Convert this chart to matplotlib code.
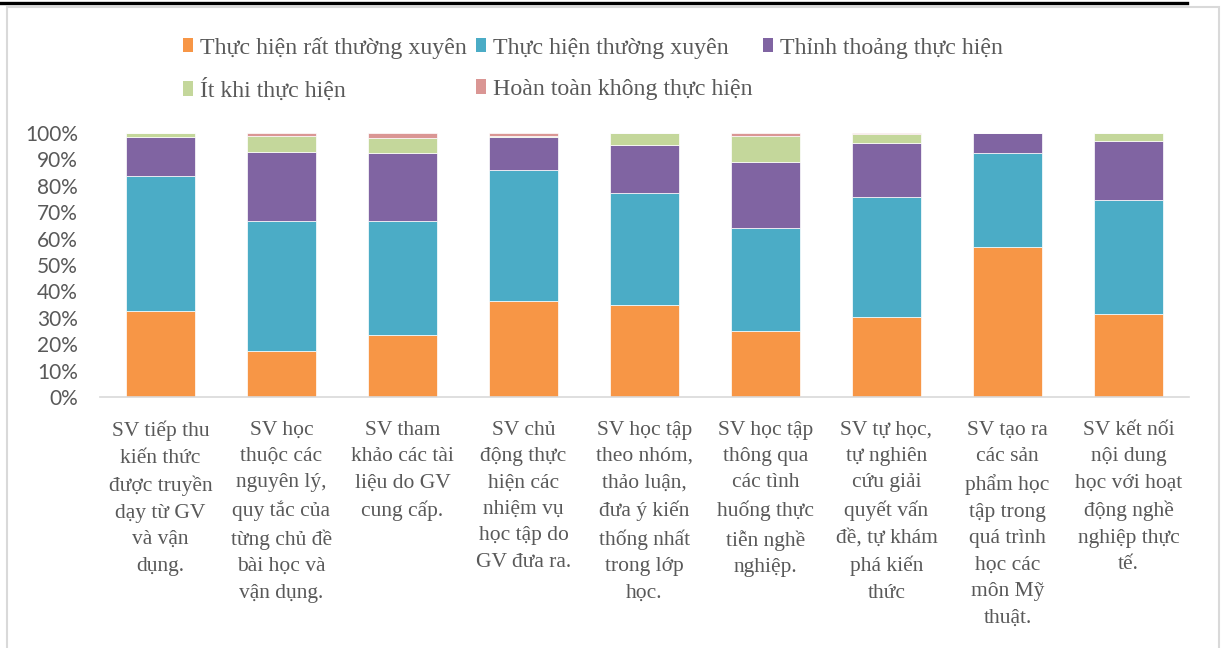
import numpy as np
import matplotlib
matplotlib.use("Agg")
import matplotlib.pyplot as plt
from matplotlib.patches import Rectangle, Patch
from matplotlib.lines import Line2D
from matplotlib.ticker import PercentFormatter

# ---- data (percent of responses) ----
categories = [
    "SV tiếp thu\nkiến thức\nđược truyền\ndạy từ GV\nvà vận\ndụng.",
    "SV học\nthuộc các\nnguyên lý,\nquy tắc của\ntừng chủ đề\nbài học và\nvận dụng.",
    "SV tham\nkhảo các tài\nliệu do GV\ncung cấp.",
    "SV chủ\nđộng thực\nhiện các\nnhiệm vụ\nhọc tập do\nGV đưa ra.",
    "SV học tập\ntheo nhóm,\nthảo luận,\nđưa ý kiến\nthống nhất\ntrong lớp\nhọc.",
    "SV học tập\nthông qua\ncác tình\nhuống thực\ntiễn nghề\nnghiệp.",
    "SV tự học,\ntự nghiên\ncứu giải\nquyết vấn\nđề, tự khám\nphá kiến\nthức",
    "SV tạo ra\ncác sản\nphẩm học\ntập trong\nquá trình\nhọc các\nmôn Mỹ\nthuật.",
    "SV kết nối\nnội dung\nhọc với hoạt\nđộng nghề\nnghiệp thực\ntế.",
]
series_names = [
    "Thực hiện rất thường xuyên",
    "Thực hiện thường xuyên",
    "Thỉnh thoảng thực hiện",
    "Ít khi thực hiện",
    "Hoàn toàn không thực hiện",
]
rat_thuong_xuyen = [32.6, 17.5, 23.5, 36.4, 34.8, 25.1, 30.4, 56.8, 31.5]
thuong_xuyen     = [51.1, 49.1, 43.1, 49.5, 42.5, 38.8, 45.3, 35.8, 43.2]
thinh_thoang     = [14.6, 26.2, 25.8, 12.4, 18.3, 25.2, 20.5,  7.4, 22.1]
it_khi           = [ 1.7,  6.1,  5.6,  0.6,  4.4,  9.8,  3.4,  0.0,  3.2]
khong_thuc_hien  = [ 0.0,  1.1,  2.0,  1.1,  0.0,  1.1,  0.4,  0.0,  0.0]

colors = ["#F79646", "#4BACC6", "#8064A2", "#C4D79B", "#DA9694"]
TXT = "#595959"

data = np.array([rat_thuong_xuyen, thuong_xuyen, thinh_thoang, it_khi, khong_thuc_hien])
data = data / data.sum(axis=0) * 100  # 100% stacked

W, H = 1224, 648
fig = plt.figure(figsize=(W / 100, H / 100), dpi=100)

# chart frame + black rule on top
fig.add_artist(Rectangle((7 / W, -0.05), 1212 / W, 1.05 - 7 / H, transform=fig.transFigure,
                         fill=False, edgecolor="#d9d9d9", linewidth=1.5))
fig.add_artist(Line2D([0, 1187 / W], [1 - 3 / H, 1 - 3 / H], transform=fig.transFigure,
                      color="black", linewidth=2.4))

ax = fig.add_axes([100 / W, 251 / H, 1089 / W, 264 / H])
x = np.arange(len(categories))
bottom = np.zeros(len(categories))
handles = []
for vals, name, c in zip(data, series_names, colors):
    ax.bar(x, vals, 0.57, bottom=bottom, color=c, edgecolor="white", linewidth=0.5, label=name)
    bottom += vals
    handles.append(Patch(facecolor=c, edgecolor="none", label=name))

ax.set_xlim(-0.5, len(categories) - 0.5)
ax.set_ylim(0, 100)
ax.set_yticks(np.arange(0, 101, 10))
ax.yaxis.set_major_formatter(PercentFormatter(decimals=0))
for s in ["top", "right", "left"]:
    ax.spines[s].set_visible(False)
ax.spines["bottom"].set_color("#d9d9d9")
ax.spines["bottom"].set_linewidth(1.2)
ax.tick_params(axis="y", length=0, pad=16, labelsize=15, labelcolor=TXT)
for lb in ax.get_yticklabels():
    lb.set_fontfamily("Lato")
ax.set_xticks(x)
ax.set_xticklabels(categories, fontfamily="Liberation Serif", fontsize=15.5,
                   color=TXT, linespacing=1.53, va="top")
ax.tick_params(axis="x", length=0, pad=17)

# legend filled row by row like the original
order = [0, 3, 1, 4, 2]
leg = fig.legend([handles[i] for i in order], [series_names[i] for i in order],
                 loc="upper left", bbox_to_anchor=(173 / W, 1 - 27 / H), ncol=3,
                 frameon=False, prop={"family": "Liberation Serif", "size": 17.2},
                 handlelength=0.42, handleheight=0.55, handletextpad=0.3,
                 columnspacing=0.4, labelspacing=0.85, borderaxespad=0)
for t in leg.get_texts():
    t.set_color(TXT)

fig.savefig("out.png", dpi=100)
